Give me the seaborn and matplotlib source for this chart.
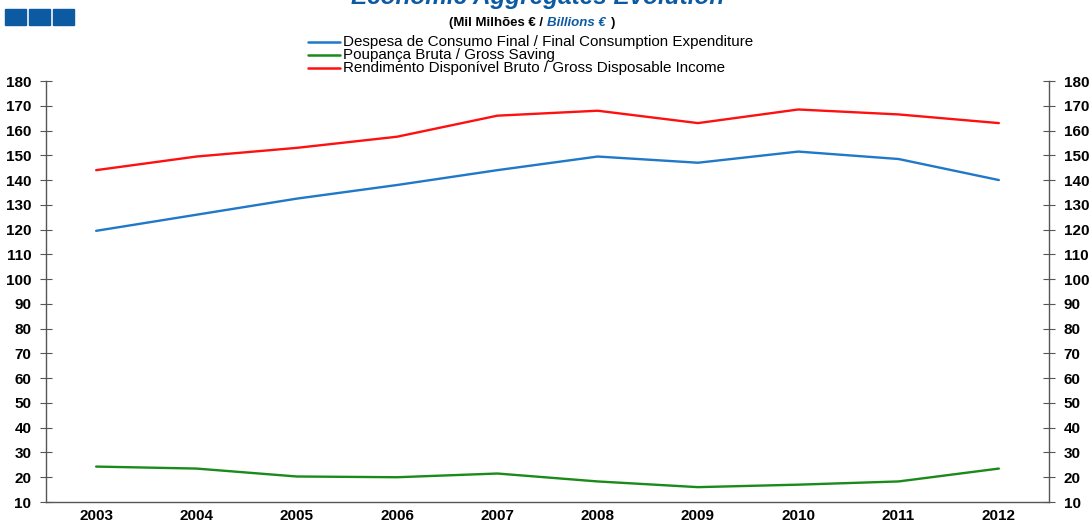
import numpy as np
import pandas as pd
import matplotlib
matplotlib.use("Agg")
import matplotlib.pyplot as plt
import seaborn as sns
from matplotlib.patches import Rectangle

# dados (mil milhões de euros)
anos = [2003, 2004, 2005, 2006, 2007, 2008, 2009, 2010, 2011, 2012]
despesa = [119.5, 126.0, 132.5, 138.0, 144.0, 149.5, 147.0, 151.5, 148.5, 140.0]
poupanca = [24.3, 23.5, 20.3, 20.0, 21.5, 18.3, 16.0, 17.0, 18.3, 23.5]
rendimento = [144.0, 149.5, 153.0, 157.5, 166.0, 168.0, 163.0, 168.5, 166.5, 163.0]

nomes = ["Despesa de Consumo Final / Final Consumption Expenditure",
         "Poupança Bruta / Gross Saving",
         "Rendimento Disponível Bruto / Gross Disposable Income"]
cores = ["#1f78c8", "#1a8a1a", "#ff1010"]
y_ticks = list(range(10, 181, 10))

df = pd.DataFrame({
    "pos": list(range(len(anos))) * 3,
    "valor": despesa + poupanca + rendimento,
    "serie": [nomes[0]] * len(anos) + [nomes[1]] * len(anos) + [nomes[2]] * len(anos),
})

sns.set_style("white")
plt.rcParams['font.family'] = ['Liberation Sans', 'DejaVu Sans']
plt.rcParams['text.color'] = 'black'
plt.rcParams['xtick.color'] = 'black'
plt.rcParams['ytick.color'] = 'black'

W, H = 1091, 526
fig = plt.figure(figsize=(W / 100, H / 100), dpi=100)
ax = fig.add_axes([46 / W, 1 - 502 / H, (1049 - 46) / W, (502 - 81) / H])

sns.lineplot(data=df, x="pos", y="valor", hue="serie", palette=cores,
             linewidth=1.7, ax=ax, legend=False)

ax.set_xlim(-0.5, len(anos) - 0.5)
ax.set_ylim(10, 180)
ax.set_xlabel("")
ax.set_ylabel("")
ax.set_xticks(range(len(anos)))
ax.set_xticklabels([str(a) for a in anos], fontweight="bold", fontsize=11)
ax.set_xticks(np.arange(-0.5, len(anos)), minor=True)
ax.tick_params(axis="x", which="major", length=0, pad=5)
ax.tick_params(axis="x", which="minor", length=5, direction="out", color="#555555")
ax.set_yticks(y_ticks)
ax.set_yticklabels([str(t) for t in y_ticks], fontweight="bold", fontsize=11)
ax.tick_params(axis="y", length=8, direction="inout", color="#555555", pad=6.5,
               left=True, right=True, labelright=True)
ax.spines["top"].set_visible(False)
for s in ["left", "right", "bottom"]:
    ax.spines[s].set_color("#555555")
    ax.spines[s].set_linewidth(1.0)

# logótipo (três quadrados)
for i in range(3):
    fig.patches.append(Rectangle(((5 + i * 24) / W, 1 - 25 / H), 21 / W, 16 / H,
                                 transform=fig.transFigure, color="#0b5aa2"))

# títulos
fig.text(538 / W, 1 - 4 / H, "Economic Aggregates Evolution", ha="center", va="baseline",
         fontsize=17.5, fontweight="bold", fontstyle="italic", color="#0b5aa2")
sub_y = 1 - 26 / H
fig.text(543 / W, sub_y, "(Mil Milhões € /", ha="right", va="baseline",
         fontsize=9.5, fontweight="bold")
fig.text(547 / W, sub_y, "Billions €", ha="left", va="baseline",
         fontsize=9.5, fontweight="bold", fontstyle="italic", color="#0b5aa2")
fig.text(611 / W, sub_y, ")", ha="left", va="baseline", fontsize=9.5, fontweight="bold")

# legenda
for i, (nome, cor) in enumerate(zip(nomes, cores)):
    yy = 1 - (42 + i * 13) / H
    fig.lines.append(plt.Line2D([308 / W, 340 / W], [yy, yy], transform=fig.transFigure,
                                color=cor, linewidth=1.8))
    fig.text(343 / W, yy, nome, ha="left", va="center", fontsize=10.9)

fig.savefig("out.png", dpi=100)
